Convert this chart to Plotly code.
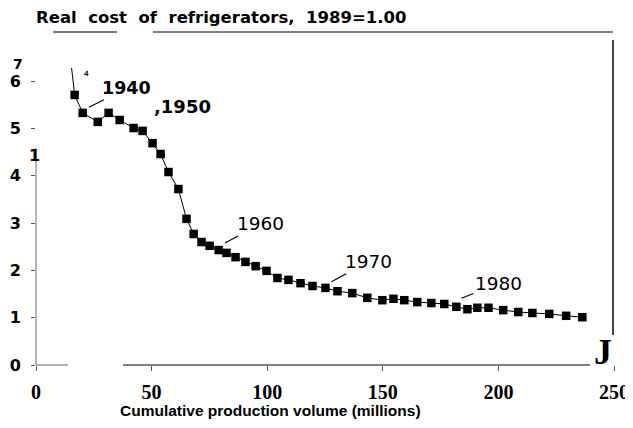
import plotly.graph_objects as go

# Cumulative production (millions) and real cost (1989 = 1.00)
cum_volume = [16.7, 20.2, 26.7, 31.4, 36.2, 42.2, 46.1, 50.4, 53.9, 57.3,
              61.6, 65.1, 68.2, 71.6, 75.1, 79.0, 82.4, 86.3, 90.6, 95.0,
              99.7, 104.4, 109.2, 114.4, 119.6, 125.2, 130.4, 136.8, 143.3, 149.8,
              154.6, 159.3, 164.9, 171.0, 176.6, 181.8, 186.6, 190.9, 195.7, 202.1,
              208.6, 214.7, 222.0, 229.3, 236.3]
real_cost = [5.71, 5.33, 5.14, 5.33, 5.18, 5.01, 4.95, 4.69, 4.46, 4.08,
             3.72, 3.09, 2.77, 2.60, 2.52, 2.43, 2.37, 2.28, 2.18, 2.09,
             1.99, 1.84, 1.80, 1.73, 1.67, 1.63, 1.56, 1.52, 1.42, 1.37,
             1.40, 1.37, 1.33, 1.31, 1.29, 1.23, 1.18, 1.21, 1.21, 1.16,
             1.12, 1.10, 1.08, 1.04, 1.01]

# the curve comes in from above the first plotted year
lead_volume = [15.4]
lead_cost = [6.28]

x_ticks = [0, 50, 100, 150, 200, 250]
y_ticks = [0, 1, 2, 3, 4, 5, 6]

# year labels: (text, arrow tip x, arrow tip y, bold)
year_labels = [
    ("1940", 22.9, 5.45, True),
    ("1960", 81.7, 2.58, False),
    ("1970", 127.8, 1.76, False),
    ("1980", 184.0, 1.41, False),
]

SANS = "Liberation Sans, Arial, sans-serif"
WIDE = "DejaVu Sans, sans-serif"
SERIF = "Liberation Serif, Times New Roman, serif"

# page body adds 8px around the figure, so the figure is 8px smaller each way
PLOT_L, PLOT_T, PLOT_W, PLOT_H = 36, 32, 578, 333


def px(x):
    return (x - PLOT_L) / PLOT_W


def py(y):
    return (PLOT_T + PLOT_H - y) / PLOT_H


fig = go.Figure()

fig.add_trace(go.Scatter(
    x=lead_volume + cum_volume[:1],
    y=lead_cost + real_cost[:1],
    mode="lines",
    line=dict(color="black", width=1),
    hoverinfo="skip",
    showlegend=False,
))

fig.add_trace(go.Scatter(
    x=cum_volume,
    y=real_cost,
    mode="lines+markers",
    line=dict(color="black", width=1),
    marker=dict(symbol="square", size=8.5, color="black"),
    showlegend=False,
))

annotations = []
offsets = {"1940": (38, -19), "1960": (36, -19), "1970": (37, -20), "1980": (37, -15)}
for text, tx, ty, bold in year_labels:
    ax, ay = offsets[text]
    annotations.append(dict(
        x=tx, y=ty, xref="x", yref="y", text=text,
        showarrow=True, arrowhead=0, arrowwidth=1.2, arrowcolor="black",
        ax=ax, ay=ay,
        font=dict(family=WIDE, size=17.5 if bold else 18.5, color="black",
                  weight="bold" if bold else "normal"),
    ))


def label(text, x, y, family, size, bold=True):
    annotations.append(dict(
        x=px(x), y=py(y), xref="paper", yref="paper", xanchor="center", yanchor="middle",
        showarrow=False, text=text,
        font=dict(family=family, size=size, color="black", weight="bold" if bold else "normal"),
    ))


label(",1950", 182, 106, WIDE, 18)
label("Real  cost  of  refrigerators,  1989=1.00", 221, 17, WIDE, 16.5)
label("Cumulative production volume (millions)", 270, 410, SANS, 15.5)

# scan artefacts kept as text
label("7", 17.5, 64, WIDE, 14)
label("1", 34, 155, WIDE, 16)
label("4", 86, 73, SANS, 8)
label("J", 603, 352, SERIF, 36)

shapes = [
    # top rule (gray stub then black line)
    dict(type="line", xref="paper", yref="paper", x0=px(53), x1=px(117),
         y0=1, y1=1, line=dict(color="#777777", width=2)),
    dict(type="line", xref="paper", yref="paper", x0=px(153), x1=px(613),
         y0=1, y1=1, line=dict(color="black", width=1)),
    # right edge
    dict(type="line", xref="paper", yref="paper", x0=px(613), x1=px(613),
         y0=py(335), y1=py(40), line=dict(color="#444444", width=2)),
    # left axis
    dict(type="line", xref="paper", yref="paper", x0=0, x1=0,
         y0=0, y1=py(148), line=dict(color="#666666", width=1)),
    # bottom axis, broken in the scan
    dict(type="line", xref="paper", yref="paper", x0=0, x1=px(68),
         y0=0, y1=0, line=dict(color="#666666", width=1)),
    dict(type="line", xref="paper", yref="paper", x0=px(123), x1=px(590),
         y0=0, y1=0, line=dict(color="black", width=1)),
]

fig.update_layout(
    width=625, height=420,
    margin=dict(l=PLOT_L - 8, r=625 - (PLOT_L - 8) - PLOT_W, t=PLOT_T - 8,
                b=420 - (PLOT_T - 8) - PLOT_H, autoexpand=False),
    paper_bgcolor="white",
    plot_bgcolor="white",
    annotations=annotations,
    shapes=shapes,
    xaxis=dict(
        range=[0, 250], tickvals=x_ticks, showgrid=False, zeroline=False, showline=False,
        automargin=False,
        ticks="outside", ticklen=5, tickcolor="#555555", ticklabelstandoff=4,
        tickfont=dict(family=SERIF, size=20, color="black", weight="bold"),
    ),
    yaxis=dict(
        range=[0, PLOT_H / 47.3], tickvals=y_ticks, showgrid=False, zeroline=False, showline=False,
        automargin=False,
        ticks="outside", ticklen=4, tickcolor="#555555", ticklabelstandoff=7,
        tickfont=dict(family=WIDE, size=16, color="black", weight="bold"),
    ),
)

fig.write_html("out.html")
